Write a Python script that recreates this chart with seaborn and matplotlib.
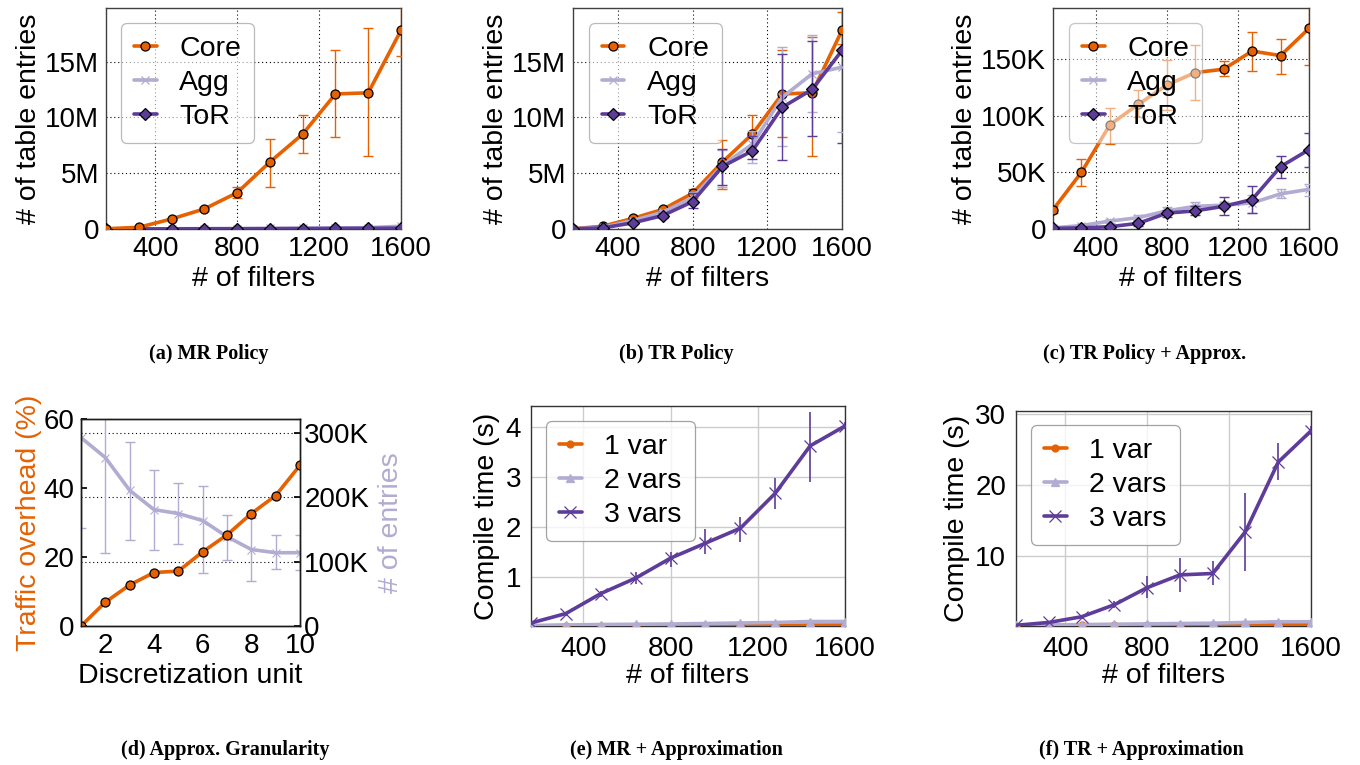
import matplotlib
matplotlib.use("Agg")
import matplotlib.pyplot as plt
import numpy as np
import seaborn as sns

# ---------------- data ----------------
filters = [160, 320, 480, 640, 800, 960, 1120, 1280, 1440, 1600]

# (a) MR policy, millions of entries
a_core = [0.02, 0.15, 0.9, 1.8, 3.25, 6.0, 8.5, 12.1, 12.2, 17.8]
a_core_lo = [0.02, 0.12, 0.8, 1.6, 2.75, 3.8, 6.8, 8.2, 6.5, 15.5]
a_core_hi = [0.02, 0.18, 1.0, 2.0, 3.75, 8.1, 10.25, 16.0, 18.0, 20.5]
a_agg = [0.01, 0.01, 0.02, 0.03, 0.04, 0.05, 0.07, 0.09, 0.12, 0.25]
a_tor = [0.01, 0.01, 0.01, 0.02, 0.02, 0.03, 0.04, 0.05, 0.06, 0.08]

# (b) TR policy, millions of entries
b_core = [0.02, 0.25, 0.95, 1.75, 3.2, 6.0, 8.5, 12.1, 12.2, 17.8]
b_core_lo = [0.02, 0.2, 0.85, 1.6, 2.8, 3.6, 6.8, 8.2, 6.5, 16.6]
b_core_hi = [0.02, 0.3, 1.05, 1.9, 3.6, 8.0, 10.2, 16.0, 17.2, 19.4]
b_agg = [0.02, 0.15, 0.75, 1.5, 2.8, 5.7, 7.6, 11.8, 13.9, 14.5]
b_agg_lo = [0.02, 0.12, 0.65, 1.3, 2.2, 3.8, 5.9, 7.4, 10.5, 8.7]
b_agg_hi = [0.02, 0.18, 0.85, 1.7, 3.3, 7.1, 8.8, 16.3, 17.4, 20.0]
b_tor = [0.01, 0.1, 0.55, 1.2, 2.45, 5.6, 7.0, 10.9, 12.5, 16.0]
b_tor_lo = [0.01, 0.08, 0.45, 1.0, 1.85, 3.9, 6.3, 6.2, 8.3, 7.7]
b_tor_hi = [0.01, 0.12, 0.65, 1.4, 3.2, 7.2, 8.3, 15.7, 16.8, 20.0]

# (c) TR policy + approximation, thousands of entries
c_core = [17, 50, 92, 110, 127, 138, 141, 157, 153, 177]
c_core_lo = [14, 38, 75, 99, 105, 114, 135, 139, 137, 145]
c_core_hi = [20, 62, 107, 123, 149, 162, 148, 174, 168, 200]
c_agg = [1, 3, 7, 10, 16, 20, 21, 23, 31, 35]
c_agg_lo = [0.5, 2, 5, 8, 13, 17, 18, 14, 27, 29]
c_agg_hi = [1.5, 4, 9, 12, 19, 24, 24, 30, 35, 40]
c_tor = [0.5, 1, 2, 5, 14, 16, 20, 26, 55, 70]
c_tor_lo = [0.3, 0.5, 1, 3, 11, 12, 12, 14, 45, 55]
c_tor_hi = [0.7, 1.5, 3, 7, 17, 20, 28, 38, 64, 85]

# (d) approximation granularity
units = [1, 2, 3, 4, 5, 6, 7, 8, 9, 10]
d_overhead = [0, 6.9, 11.9, 15.5, 15.9, 21.5, 26.4, 32.6, 37.8, 46.6]
d_entries = [293, 262, 211, 181, 175, 164, 139, 119, 114, 114]       # K
d_entries_lo = [152, 114, 134, 119, 127, 83, 102, 70, 88, 87]
d_entries_hi = [340, 330, 287, 242, 223, 218, 173, 168, 141, 142]

# (e) MR + approximation, compile time (s)
e_1var = [0.01, 0.02, 0.01, 0.015, 0.018, 0.02, 0.022, 0.025, 0.028, 0.03]
e_2var = [0.02, 0.03, 0.04, 0.045, 0.05, 0.06, 0.07, 0.08, 0.1, 0.1]
e_3var = [0.07, 0.26, 0.66, 0.97, 1.37, 1.67, 1.97, 2.67, 3.62, 4.02]
e_3var_lo = [0.06, 0.22, 0.6, 0.85, 1.2, 1.45, 1.7, 2.35, 2.9, 3.95]
e_3var_hi = [0.08, 0.3, 0.72, 1.1, 1.5, 1.95, 2.2, 2.98, 4.3, 4.1]

# (f) TR + approximation, compile time (s)
f_1var = [0.1, 0.15, 0.2, 0.2, 0.2, 0.2, 0.22, 0.25, 0.28, 0.3]
f_2var = [0.2, 0.25, 0.3, 0.35, 0.4, 0.45, 0.5, 0.6, 0.7, 0.7]
f_3var = [0.2, 0.6, 1.4, 3.1, 5.5, 7.3, 7.5, 13.4, 23.2, 27.6]
f_3var_lo = [0.15, 0.4, 1.1, 2.6, 4.0, 4.9, 5.9, 7.9, 20.7, 27.0]
f_3var_hi = [0.25, 0.8, 1.7, 3.6, 7.2, 9.7, 9.2, 18.8, 25.9, 28.3]

filter_ticks = [400, 800, 1200, 1600]
m_ticks = [0, 5, 10, 15]
m_labels = ["0", "5M", "10M", "15M"]
k_ticks = [0, 50, 100, 150]
k_labels = ["0", "50K", "100K", "150K"]
d_left_ticks = [0, 20, 40, 60]
d_right_ticks = [0, 100, 200, 300]
d_right_labels = ["0", "100K", "200K", "300K"]

captions = ["(a) MR Policy", "(b) TR Policy", "(c) TR Policy + Approx.",
            "(d) Approx. Granularity", "(e) MR + Approximation", "(f) TR + Approximation"]

# ---------------- style ----------------
sns.set_theme(style="white")
plt.rcParams["font.family"] = ["Liberation Sans", "DejaVu Sans"]
plt.rcParams.update({"text.color": "black", "axes.labelcolor": "black",
                     "xtick.color": "black", "ytick.color": "black"})
ORANGE = "#e66101"
LIGHT = "#b2abd2"
DARK = "#5e3c99"
TICK_FS = 20
LABEL_FS = 20.5
LEG_FS = 20.5

W, H = 1360, 765
fig = plt.figure(figsize=(W / 100, H / 100), dpi=100)


def box(l, r, t, b):
    return [l / W, 1 - b / H, (r - l) / W, (b - t) / H]


def classic(ax):
    for s in ax.spines.values():
        s.set_color("0.25")
        s.set_linewidth(1.0)
    ax.tick_params(direction="in", length=4, width=0.8, labelsize=TICK_FS, colors="black",
                   pad=5)
    ax.grid(True, linestyle=(0, (1, 2.5)), color="black", linewidth=0.8)


def modern(ax):
    for s in ax.spines.values():
        s.set_color("0.2")
        s.set_linewidth(1.0)
    ax.tick_params(direction="out", length=4, width=0.8, labelsize=TICK_FS, colors="black",
                   pad=3)
    ax.grid(True, linestyle="-", color="#cccccc", linewidth=1.0)


def series(ax, y, lo, hi, color, marker, label, ms, mec="black", z=3, cap=3.5, elw=1.0):
    y = np.asarray(y, float)
    sns.lineplot(x=filters, y=y, ax=ax, color=color, marker=marker, markersize=ms,
                 markeredgecolor=mec, markeredgewidth=0.9, linewidth=2.6, label=label,
                 zorder=z)
    if lo is not None:
        ax.errorbar(filters, y, yerr=[y - np.asarray(lo), np.asarray(hi) - y], fmt="none",
                    ecolor=color, elinewidth=elw, capsize=cap, capthick=elw, zorder=z - 0.5)


def legend(ax, x, y, alpha=0.6):
    leg = ax.legend(loc="upper left", bbox_to_anchor=(x, y), borderaxespad=0,
                    fontsize=LEG_FS, handlelength=0.8, handletextpad=0.8,
                    labelspacing=0.28, borderpad=0.45, frameon=True, fancybox=True,
                    framealpha=alpha, edgecolor="0.55")
    leg.get_frame().set_linewidth(0.9)
    return leg


# (a)
ax = fig.add_axes(box(106, 401, 8, 229))
series(ax, a_core, a_core_lo, a_core_hi, ORANGE, "o", "Core", 6.5, z=5)
series(ax, a_agg, None, None, LIGHT, "x", "Agg", 6, mec=LIGHT, z=3)
series(ax, a_tor, None, None, DARK, "D", "ToR", 6, z=4)
ax.set_xlim(160, 1600)
ax.set_ylim(0, 19.8)
ax.set_xticks(filter_ticks)
ax.set_yticks(m_ticks)
ax.set_yticklabels(m_labels)
classic(ax)
ax.set_xlabel("# of filters", fontsize=LABEL_FS, labelpad=3)
ax.set_ylabel("# of table entries", fontsize=LABEL_FS, labelpad=2)
legend(ax, 0.051, 0.932)

# (b)
ax = fig.add_axes(box(573, 842, 8, 229))
series(ax, b_core, b_core_lo, b_core_hi, ORANGE, "o", "Core", 6.5, z=3)
series(ax, b_agg, b_agg_lo, b_agg_hi, LIGHT, "x", "Agg", 6, mec=LIGHT, z=4)
series(ax, b_tor, b_tor_lo, b_tor_hi, DARK, "D", "ToR", 6, z=5)
ax.set_xlim(160, 1600)
ax.set_ylim(0, 19.8)
ax.set_xticks(filter_ticks)
ax.set_yticks(m_ticks)
ax.set_yticklabels(m_labels)
classic(ax)
ax.set_xlabel("# of filters", fontsize=LABEL_FS, labelpad=3)
ax.set_ylabel("# of table entries", fontsize=LABEL_FS, labelpad=2)
legend(ax, 0.059, 0.932)

# (c)
ax = fig.add_axes(box(1053, 1309, 8, 229))
series(ax, c_core, c_core_lo, c_core_hi, ORANGE, "o", "Core", 6.5, z=3)
series(ax, c_agg, c_agg_lo, c_agg_hi, LIGHT, "x", "Agg", 6, mec=LIGHT, z=4)
series(ax, c_tor, c_tor_lo, c_tor_hi, DARK, "D", "ToR", 6, z=5)
ax.set_xlim(160, 1600)
ax.set_ylim(0, 195)
ax.set_xticks(filter_ticks)
ax.set_yticks(k_ticks)
ax.set_yticklabels(k_labels)
classic(ax)
ax.set_xlabel("# of filters", fontsize=LABEL_FS, labelpad=3)
ax.set_ylabel("# of table entries", fontsize=LABEL_FS, labelpad=2)
legend(ax, 0.0625, 0.932, alpha=0.5)

# (d)
ax = fig.add_axes(box(81, 300, 419, 626))
ax2 = ax.twinx()
ax.set_zorder(ax2.get_zorder() + 1)
ax.patch.set_visible(False)
sns.lineplot(x=units, y=d_overhead, ax=ax, color=ORANGE, marker="o", markersize=6.5,
             markeredgecolor="black", markeredgewidth=0.9, linewidth=2.6)
ent = np.asarray(d_entries, float)
sns.lineplot(x=units, y=ent, ax=ax2, color=LIGHT, marker="x", markersize=6,
             markeredgecolor=LIGHT, linewidth=2.6)
ax2.errorbar(units, ent, yerr=[ent - np.asarray(d_entries_lo), np.asarray(d_entries_hi) - ent],
             fmt="none", ecolor=LIGHT, elinewidth=1.0, capsize=3.5, capthick=1.0)
ax.set_xlim(1, 10)
ax.set_ylim(0, 60)
ax2.set_ylim(0, 322)
ax.set_xticks([2, 4, 6, 8, 10])
ax.set_yticks(d_left_ticks)
ax2.set_yticks(d_right_ticks)
ax2.set_yticklabels(d_right_labels)
for s in list(ax.spines.values()) + list(ax2.spines.values()):
    s.set_color("0.1")
    s.set_linewidth(1.0)
ax.tick_params(direction="in", length=4, labelsize=TICK_FS, pad=5)
ax2.tick_params(direction="in", length=4, labelsize=TICK_FS, pad=3)
ax.grid(False)
ax2.grid(True, axis="y", linestyle=(0, (1, 2.5)), color="black", linewidth=0.8)
ax.set_xlabel("Discretization unit", fontsize=LABEL_FS, labelpad=3)
ax.set_ylabel("Traffic overhead (%)", fontsize=LABEL_FS, color=ORANGE, labelpad=1)
ax2.set_ylabel("# of entries", fontsize=LABEL_FS, color=LIGHT, labelpad=6)

# (e)
ax = fig.add_axes(box(531, 845, 406, 626))
series(ax, e_1var, None, None, ORANGE, "o", "1 var", 5, mec=ORANGE, z=3)
series(ax, e_2var, None, None, LIGHT, "^", "2 vars", 6, mec=LIGHT, z=4)
series(ax, e_3var, e_3var_lo, e_3var_hi, DARK, "x", "3 vars", 8, mec=DARK, z=5, cap=0,
       elw=1.2)
ax.set_xlim(160, 1600)
ax.set_ylim(0.01, 4.42)
ax.set_xticks(filter_ticks)
ax.set_yticks([1, 2, 3, 4])
modern(ax)
ax.set_xlabel("# of filters", fontsize=LABEL_FS, labelpad=1)
ax.set_ylabel("Compile time (s)", fontsize=LABEL_FS, labelpad=4)
legend(ax, 0.048, 0.932, alpha=0.8)

# (f)
ax = fig.add_axes(box(1016, 1311, 411, 626))
series(ax, f_1var, None, None, ORANGE, "o", "1 var", 5, mec=ORANGE, z=3)
series(ax, f_2var, None, None, LIGHT, "^", "2 vars", 6, mec=LIGHT, z=4)
series(ax, f_3var, f_3var_lo, f_3var_hi, DARK, "x", "3 vars", 8, mec=DARK, z=5, cap=0,
       elw=1.2)
ax.set_xlim(160, 1600)
ax.set_ylim(0.1, 30.4)
ax.set_xticks(filter_ticks)
ax.set_yticks([10, 20, 30])
modern(ax)
ax.set_xlabel("# of filters", fontsize=LABEL_FS, labelpad=1)
ax.set_ylabel("Compile time (s)", fontsize=LABEL_FS, labelpad=4)
legend(ax, 0.051, 0.935, alpha=0.8)

# captions
cap_pos = [(209, 354), (676, 354), (1145, 354), (225, 750), (676, 750), (1141, 750)]
for txt, (cx, cy) in zip(captions, cap_pos):
    fig.text(cx / W, 1 - cy / H, txt, ha="center", va="center", fontsize=14.5,
             fontweight="bold", family=["Liberation Serif", "DejaVu Serif"])

fig.savefig("out.png", dpi=100)
